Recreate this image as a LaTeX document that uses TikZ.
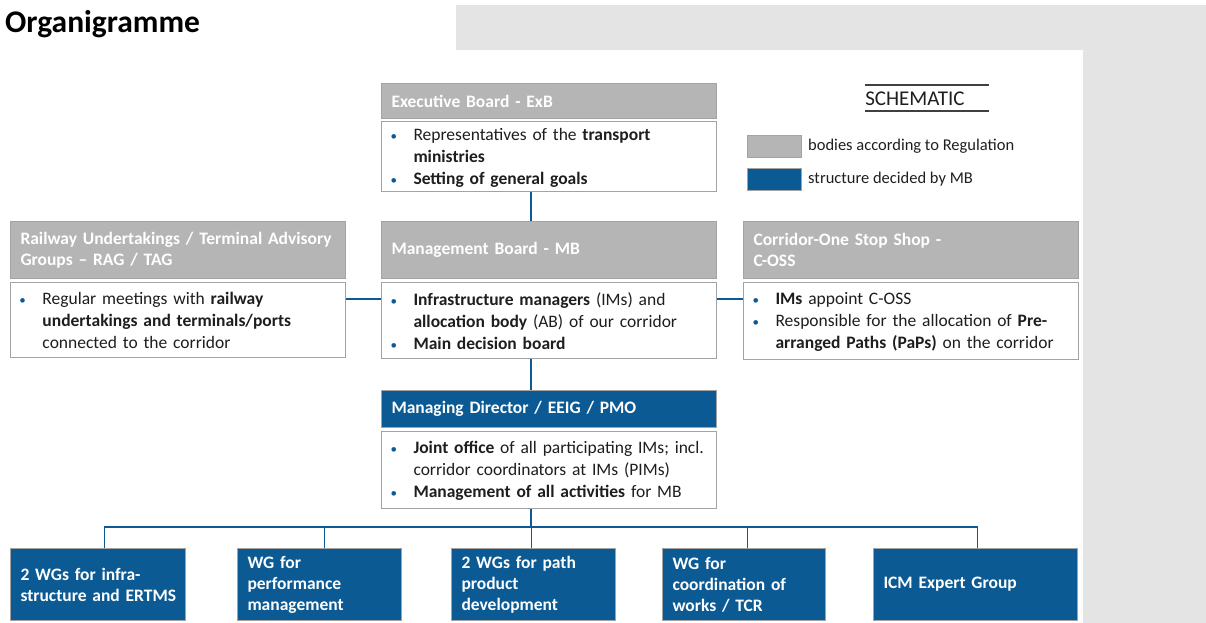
\documentclass[tikz,border=0pt]{standalone}
\usepackage{fontspec}
\setmainfont{Carlito}
\usetikzlibrary{positioning}

\definecolor{ecblue}{HTML}{0B5A94}
\definecolor{hdgray}{HTML}{B5B5B5}
\definecolor{edgegray}{HTML}{A3A3A3}
\definecolor{bggray}{HTML}{E4E4E4}
\definecolor{inkgray}{HTML}{1E1E1E}
\definecolor{rulegray}{HTML}{404040}

\newcommand{\itm}[1]{\par\noindent\hangindent=32pt\hangafter=1\makebox[32pt][l]{\hspace{9pt}\textcolor{ecblue}{\fontsize{13}{13}\selectfont\textbullet}}#1\par}

\begin{document}
\begin{tikzpicture}[x=1pt,y=-1pt,
    hdr/.style={draw=edgegray,line width=1pt,fill=hdgray,text=white,
        font=\bfseries\fontsize{17.5}{21}\selectfont,align=left,
        inner xsep=10pt,inner ysep=0pt,text width=315pt,minimum height=#1,anchor=north west},
    blu/.style={hdr=#1,fill=ecblue},
    body/.style={draw=edgegray,line width=1pt,fill=white,text=inkgray,
        font=\fontsize{17.5}{22}\selectfont,align=left,
        inner xsep=0pt,inner ysep=0pt,text width=335pt,minimum height=#1},
    wg/.style={draw=edgegray,line width=1pt,fill=ecblue,text=white,
        font=\bfseries\fontsize{17.5}{21}\selectfont,align=left,
        inner xsep=0pt,inner ysep=0pt,minimum height=72pt,anchor=north west,
        execute at begin node={\leftskip=10pt\relax}},
    conn/.style={draw=ecblue,line width=1.4pt},
    swatch/.style={draw=edgegray,line width=1pt,minimum width=54pt,minimum height=22pt,
        inner sep=0pt,anchor=north west},
    legtext/.style={font=\fontsize{16.5}{18}\selectfont,text=inkgray,inner sep=0pt}]
    \useasboundingbox (0,0) rectangle (1206,623);
    \fill[bggray] (456,5) rectangle (1206,50);
    \fill[bggray] (1083,50) rectangle (1206,623);

    \node[anchor=base west,font=\bfseries\fontsize{31.5}{31.5}\selectfont,inner sep=0pt] (title) at (5,33) {Organigramme};

    \node[hdr=35pt] (exb-hd) at (381,83) {Executive Board - ExB};
    \node[body=70pt,below=2pt of exb-hd,execute at begin node={\vspace*{-8pt}}] (exb) {\itm{Representatives of the \textbf{transport}\newline\textbf{ministries}}\itm{\textbf{Setting of general goals}}};

    \node[hdr=57pt] (rag-hd) at (10,221) {Railway Undertakings / Terminal Advisory\\Groups -- RAG / TAG};
    \node[body=75pt,below=3pt of rag-hd,execute at end node={\vspace{8pt}}] (rag) {\itm{Regular meetings with \textbf{railway}\newline\textbf{undertakings and terminals/ports}\newline connected to the corridor}};
    \node[hdr=57pt] (mb-hd) at (381,221) {Management Board - MB};
    \node[body=76pt,below=3pt of mb-hd,execute at end node={\vspace{8pt}}] (mb) {\itm{\textbf{Infrastructure managers} (IMs) and\newline\textbf{allocation body} (AB) of our corridor}\itm{\textbf{Main decision board}}};
    \node[hdr=57pt] (coss-hd) at (743,221) {Corridor-One Stop Shop -\\C-OSS};
    \node[body=75pt,below=3pt of coss-hd,execute at end node={\vspace{8pt}}] (coss) {\itm{\textbf{IMs} appoint C-OSS}\itm{Responsible for the allocation of \textbf{Pre-}\newline\textbf{arranged Paths (PaPs)} on the corridor}};

    \node[blu=37pt] (md-hd) at (381,390) {Managing Director / EEIG / PMO};
    \node[body=76pt,below=3pt of md-hd,execute at end node={\vspace{8pt}}] (md) {\itm{\textbf{Joint office} of all participating IMs; incl.\newline corridor coordinators at IMs (PIMs)}\itm{\textbf{Management of all activities} for MB}};

    \foreach \n/\x/\w/\txt in {wg1/10/175/{2 WGs for infra-\\structure and ERTMS},
        wg2/237/164/{WG for\\performance\\management},
        wg3/451/164/{2 WGs for path\\product\\development},
        wg4/662/163/{WG for\\coordination of\\works / TCR},
        wg5/873/204/{ICM Expert Group}}
        \node[wg,text width=\w pt] (\n) at (\x,548) {\txt};

    \coordinate (spine) at (531,0);
    \coordinate (bus) at (531,527);
    \draw[conn] (exb.south -| spine) -- (mb-hd.north -| spine);
    \draw[conn] ([yshift=-17pt]rag.north east) -- ([yshift=-17pt]mb.north west);
    \draw[conn] ([yshift=-17pt]mb.north east) -- ([yshift=-17pt]coss.north west);
    \draw[conn] (mb.south -| spine) -- (md-hd.north -| spine);
    \draw[conn] (md.south -| spine) -- (bus);
    \foreach \n/\dx in {wg1/6.5,wg2/5,wg3/-2,wg4/3.5,wg5/2}
        \draw[conn] (bus) -| ([xshift=\dx pt]\n.north);

    \node[font=\fontsize{21}{21}\selectfont,text=inkgray,inner sep=0pt] (schem) at (915,99) {SCHEMATIC};
    \draw[rulegray,line width=1.8pt] (865,85) -- (989,85);
    \draw[rulegray,line width=1.8pt] (865,111) -- (989,111);
    \node[swatch,fill=hdgray] (key-reg) at (747,135) {};
    \node[legtext,right=6pt of key-reg] (txt-reg) {bodies according to Regulation};
    \node[swatch,fill=ecblue] (key-mb) at (747,168) {};
    \node[legtext,right=6pt of key-mb] (txt-mb) {structure decided by MB};
\end{tikzpicture}
\end{document}
